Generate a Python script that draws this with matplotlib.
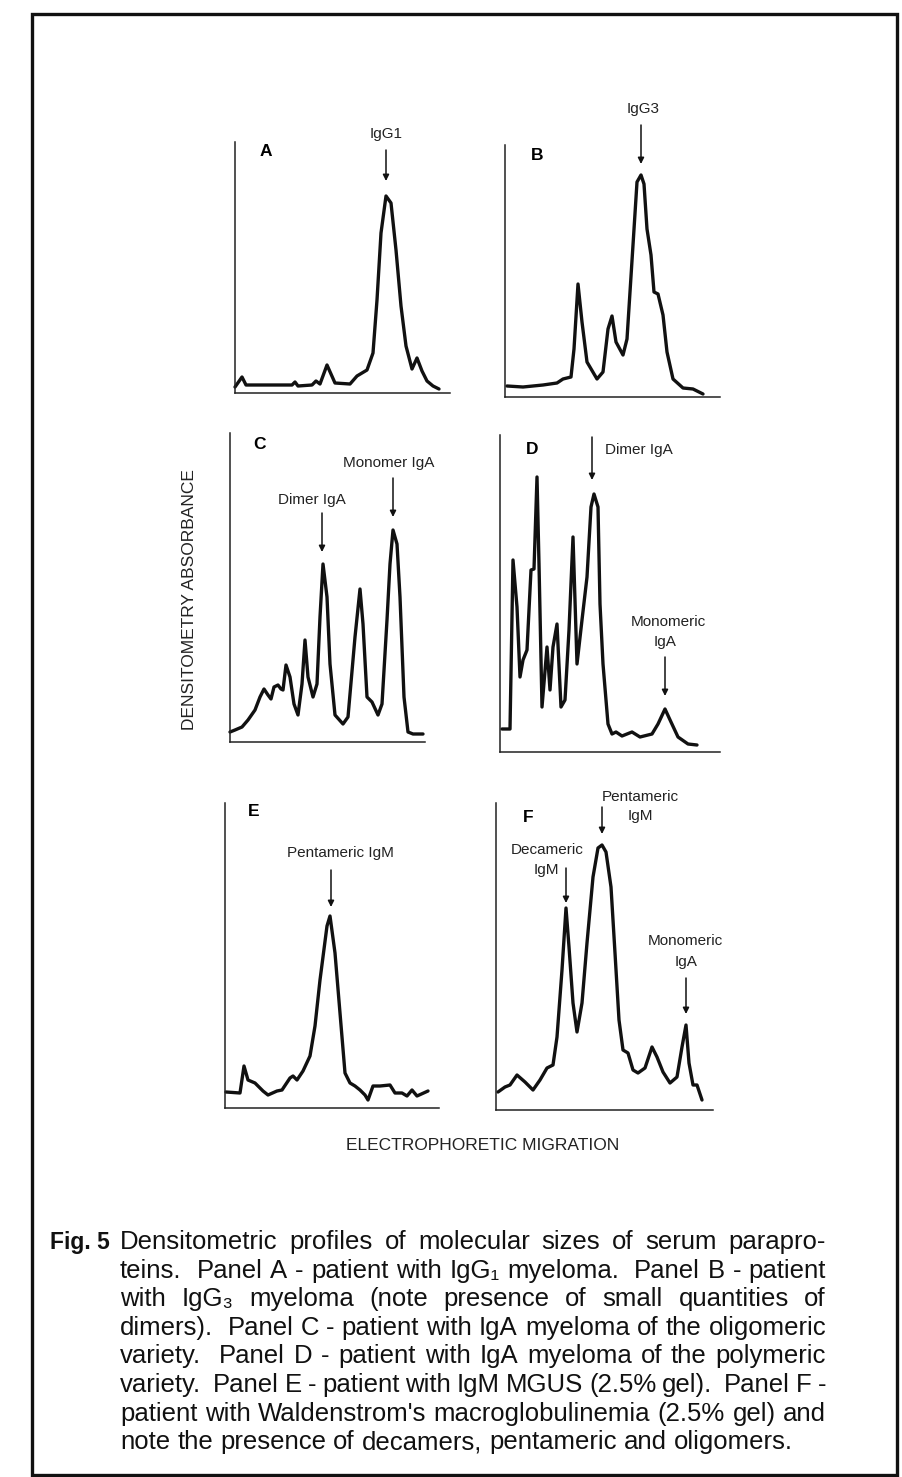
import re
import matplotlib
matplotlib.use("Agg")
import matplotlib.pyplot as plt
from matplotlib.patches import Rectangle

W, H = 903, 1477
FONT = ["Liberation Sans", "DejaVu Sans"]
plt.rcParams["font.family"] = FONT

# densitometry traces: migration vs absorbance
a_mig = [0, 7, 11, 57, 60, 63, 77, 81, 85, 92, 100, 115, 122, 132, 138, 142, 146, 151, 156, 161, 166, 171, 177, 182, 187, 192, 198, 204]
a_abs = [6, 16, 8, 8, 11, 7, 8, 12, 9, 28, 10, 9, 17, 23, 40, 93, 160, 197, 190, 143, 87, 47, 24, 35, 22, 12, 7, 4]

b_mig = [2, 18, 38, 52, 58, 66, 69, 73, 77, 82, 92, 98, 103, 107, 111, 118, 122, 128, 132, 136, 139, 142, 146, 149, 153, 158, 162, 168, 178, 188, 198]
b_abs = [11, 10, 12, 14, 18, 20, 48, 113, 75, 35, 18, 25, 68, 81, 55, 42, 58, 152, 215, 222, 213, 168, 142, 105, 103, 82, 45, 18, 9, 8, 3]

c_mig = [0, 5, 12, 18, 25, 30, 34, 38, 41, 44, 48, 51, 53, 56, 60, 64, 68, 72, 75, 78, 83, 87, 90, 93, 97,
         100, 105, 113, 118, 125, 130, 133, 137, 142, 148, 152, 157, 160, 163, 167, 170, 174, 178, 183, 193]
c_abs = [10, 12, 15, 22, 32, 45, 53, 47, 43, 55, 57, 53, 52, 77, 65, 38, 27, 58, 102, 65, 45, 58, 125, 178, 145,
         78, 27, 18, 25, 105, 153, 118, 45, 40, 27, 38, 122, 178, 212, 198, 145, 45, 10, 8, 8]

d_mig = [2, 10, 13, 17, 20, 23, 27, 31, 34, 37, 39, 42, 47, 50, 53, 57, 61, 65, 69, 73, 77, 82, 87, 91, 94,
         98, 100, 103, 108, 112, 116, 122, 132, 140, 152, 158, 165, 171, 178, 188, 197]
d_abs = [23, 23, 192, 145, 75, 92, 102, 182, 183, 275, 188, 45, 105, 62, 105, 128, 45, 52, 122, 215, 88, 132, 175, 245, 258,
         245, 148, 88, 28, 18, 20, 16, 20, 15, 18, 28, 43, 30, 15, 8, 7]

e_mig = [1, 15, 19, 23, 30, 38, 43, 52, 57, 65, 68, 72, 78, 85, 90, 95, 102, 105, 110, 115, 120, 125, 130, 135, 140,
         143, 148, 155, 165, 170, 177, 182, 187, 192, 203]
e_abs = [16, 15, 42, 28, 25, 17, 13, 17, 18, 30, 32, 28, 37, 52, 82, 128, 182, 192, 155, 95, 35, 25, 22, 18, 13,
         8, 22, 22, 23, 15, 15, 12, 18, 12, 17]

f_mig = [2, 9, 14, 21, 29, 37, 44, 51, 57, 61, 66, 70, 73, 77, 81, 86, 91, 97, 102, 106, 110, 115, 119, 123, 127,
         132, 137, 142, 149, 156, 161, 167, 174, 181, 186, 190, 193, 197, 201, 206]
f_abs = [18, 23, 25, 35, 28, 20, 30, 42, 45, 73, 140, 202, 163, 107, 78, 107, 167, 233, 262, 265, 258, 223, 157, 90, 60,
         57, 40, 37, 42, 63, 53, 38, 27, 33, 63, 85, 47, 25, 25, 10]

caption = [
    "Densitometric profiles of molecular sizes of serum parapro-",
    "teins.  Panel A - patient with IgG\u2081 myeloma.  Panel B - patient",
    "with IgG\u2083 myeloma (note presence of small quantities of",
    "dimers).  Panel C - patient with IgA myeloma of the oligomeric",
    "variety.  Panel D - patient with IgA myeloma of the polymeric",
    "variety.  Panel E - patient with IgM MGUS (2.5% gel).  Panel F -",
    "patient with Waldenstrom's macroglobulinemia (2.5% gel) and",
    "note the presence of decamers, pentameric and oligomers.",
]

# layout: axis origin (px, bottom-left), axis width, height
boxes = {
    "A": (235, 393, 215, 251),
    "B": (505, 397, 215, 252),
    "C": (230, 742, 195, 309),
    "D": (500, 752, 220, 317),
    "E": (225, 1108, 214, 305),
    "F": (496, 1110, 217, 307),
}
letter_pos = {"A": (31, 242), "B": (32, 242), "C": (30, 297), "D": (32, 302), "E": (29, 296), "F": (32, 293)}
notes = {
    "A": [("IgG1", 151, 259, "center")],
    "B": [("IgG3", 138, 288, "center")],
    "C": [("Dimer IgA", 82, 242, "center"), ("Monomer IgA", 159, 279, "center")],
    "D": [("Dimer IgA", 105, 302, "left"), ("Monomeric", 168, 130, "center"), ("IgA", 165, 110, "center")],
    "E": [("Pentameric IgM", 115, 255, "center")],
    "F": [("Pentameric", 144, 313, "center"), ("IgM", 144, 294, "center"),
          ("Decameric", 51, 260, "center"), ("IgM", 50, 240, "center"),
          ("Monomeric", 189, 169, "center"), ("IgA", 190, 148, "center")],
}
arrows = {
    "A": [(151, 243, 212)],
    "B": [(136, 272, 233)],
    "C": [(92, 229, 190), (163, 264, 225)],
    "D": [(92, 315, 272), (165, 95, 56)],
    "E": [(106, 238, 201)],
    "F": [(106, 303, 276), (70, 242, 207), (190, 132, 96)],
}
traces = {"A": (a_mig, a_abs), "B": (b_mig, b_abs), "C": (c_mig, c_abs),
          "D": (d_mig, d_abs), "E": (e_mig, e_abs), "F": (f_mig, f_abs)}

fig = plt.figure(figsize=(W / 100, H / 100), dpi=100)
fig.patch.set_facecolor("white")

# outer frame of the scanned page
fig.add_artist(Rectangle((32 / W, 1 - 1475 / H), 865 / W, 1461 / H, transform=fig.transFigure,
                         fill=False, lw=2.4, edgecolor="#111111"))

for key, (mig, absb) in traces.items():
    x0, y0, w, h = boxes[key]
    ax = fig.add_axes([x0 / W, 1 - y0 / H, w / W, h / H])
    ax.patch.set_alpha(0)
    ax.plot(mig, absb, color="#111111", lw=2.4, solid_joinstyle="round", solid_capstyle="round", clip_on=False)
    ax.set_xlim(0, w)
    ax.set_ylim(0, h)
    ax.set_xticks([])
    ax.set_yticks([])
    for s in ["top", "right"]:
        ax.spines[s].set_visible(False)
    for s in ["left", "bottom"]:
        ax.spines[s].set_linewidth(1.1)
        ax.spines[s].set_color("#222222")
    lx, ly = letter_pos[key]
    ax.text(lx, ly, key, fontsize=12.5, fontweight="bold", ha="center", va="center", clip_on=False)
    for txt, tx, ty, ha in notes[key]:
        ax.text(tx, ty, txt, fontsize=11, ha=ha, va="center", clip_on=False, color="#222222")
    for ax_x, y_from, y_to in arrows[key]:
        ax.annotate("", xy=(ax_x, y_to), xytext=(ax_x, y_from), annotation_clip=False,
                    arrowprops=dict(arrowstyle="-|>", color="#111111", lw=1.1,
                                    mutation_scale=9, shrinkA=0, shrinkB=0))

fig.text(190 / W, 1 - 600 / H, "DENSITOMETRY ABSORBANCE", rotation=90, fontsize=12.5,
         ha="center", va="center", color="#222222")
fig.text(483 / W, 1 - 1145 / H, "ELECTROPHORETIC MIGRATION", fontsize=12.5,
         ha="center", va="center", color="#222222")

# caption, justified word by word
renderer = fig.canvas.get_renderer()
left, right = 120, 826
y_first, step = 1249, 28.6


def text_w(s, size, **kw):
    t = fig.text(0, 0, s, fontsize=size, **kw)
    wd = t.get_window_extent(renderer).width
    t.remove()
    return wd


def split_line(line):
    parts = re.split(r"( +)", line)
    return parts[0::2], [len(g) for g in parts[1::2]]


# pick the biggest size at which every justified line still fits
cap_size = 18.5
while cap_size > 12:
    sp = text_w("a a", cap_size) - text_w("aa", cap_size)
    fits = True
    for line in caption[:-1]:
        words, gaps = split_line(line)
        if sum(text_w(wd, cap_size) for wd in words) + 0.8 * sp * sum(gaps) > right - left:
            fits = False
            break
    if fits:
        break
    cap_size -= 0.25
space_w = text_w("a a", cap_size) - text_w("aa", cap_size)

# "Fig. 5" has to sit in the margin before the body text
fig_size = cap_size
while text_w("Fig. 5", fig_size, fontweight="bold") > 60 and fig_size > 10:
    fig_size -= 0.25
fig.text(50 / W, 1 - y_first / H, "Fig. 5", fontsize=fig_size, fontweight="bold", va="baseline",
         color="#111111")

for i, line in enumerate(caption):
    words, gaps = split_line(line)
    y = 1 - (y_first + i * step) / H
    items = [fig.text(0, y, wd, fontsize=cap_size, va="baseline", color="#111111") for wd in words]
    widths = [t.get_window_extent(renderer).width for t in items]
    if i < len(caption) - 1:
        unit = (right - left - sum(widths)) / sum(gaps)
    else:
        unit = space_w
    x = left
    for t, wd, g in zip(items, widths, gaps + [0]):
        t.set_x(x / W)
        x += wd + g * unit

fig.savefig("out.png", dpi=100)
